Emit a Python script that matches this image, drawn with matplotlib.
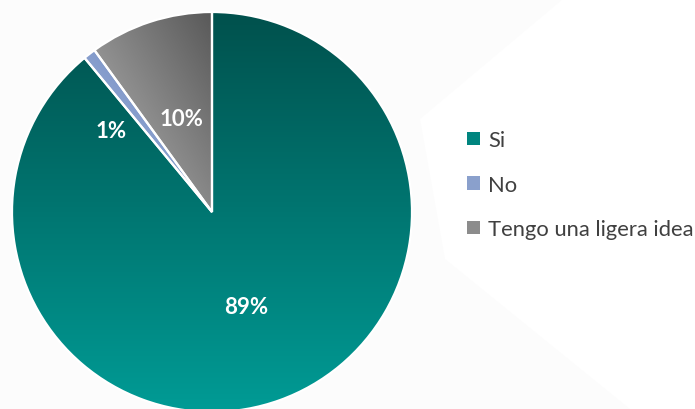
import numpy as np
import matplotlib.pyplot as plt
from matplotlib.colors import LinearSegmentedColormap
from matplotlib.patches import Patch, Polygon

labels = ['Si', 'No', 'Tengo una ligera idea']
values = [89, 1, 10]

# gradient colours (dark end, light end) per slice
dark_cols = ['#00514d', '#5677ba', '#595959']
light_cols = ['#009b95', '#b6c3df', '#b9b9b9']
legend_cols = ['#00857f', '#8aa0cc', '#8c8c8c']

plt.rcParams['font.family'] = ['Lato', 'DejaVu Sans']

fig = plt.figure(figsize=(6.95, 4.10), dpi=100)
ax = fig.add_axes([0, 0, 1, 1])

# faint background shading
ax.add_patch(Polygon([(0, 410), (563, 410), (420, 290), (445, 150), (630, 0), (0, 0)],
                     closed=True, facecolor='#fcfcfc', edgecolor='none', zorder=0))

cx, cy, r = 212, 197, 200
wedges, _ = ax.pie(values, startangle=90, counterclock=False, center=(cx, cy),
                   radius=r, frame=True,
                   wedgeprops=dict(edgecolor='white', linewidth=1.6))
ax.set_xlim(0, 695)
ax.set_ylim(0, 410)
ax.set_aspect('equal')
ax.axis('off')

n = 200
for i, w in enumerate(wedges):
    th = np.radians(np.linspace(w.theta1, w.theta2, 60))
    xs = np.concatenate([[cx], cx + r * np.cos(th)])
    ys = np.concatenate([[cy], cy + r * np.sin(th)])
    x0, x1, y0, y1 = xs.min(), xs.max(), ys.min(), ys.max()
    gx, gy = np.meshgrid(np.linspace(0, 1, n), np.linspace(0, 1, n))
    if i == 0:
        t = 1 - gy                      # dark at top, light at bottom
    else:
        t = ((1 - gx) + (1 - gy)) / 2   # dark top-right, light bottom-left
    cmap = LinearSegmentedColormap.from_list('g%d' % i, [dark_cols[i], light_cols[i]])
    im = ax.imshow(t, cmap=cmap, origin='lower', extent=[x0, x1, y0, y1],
                   aspect='auto', zorder=1, vmin=0, vmax=1)
    im.set_clip_path(w)
    w.set_facecolor('none')
    w.set_zorder(2)

# percentage labels
lab_pos = [(None, 0.5), (141, 0.65), (None, 0.49)]
for i, w in enumerate(wedges):
    ang, dist = lab_pos[i]
    if ang is None:
        ang = (w.theta1 + w.theta2) / 2
    a = np.radians(ang)
    ax.text(cx + dist * r * np.cos(a), cy + dist * r * np.sin(a),
            '%d%%' % values[i], color='white', fontsize=16, fontweight='bold',
            ha='center', va='center', zorder=3)

handles = [Patch(facecolor=c, edgecolor='none') for c in legend_cols]
ax.legend(handles, labels, loc='center left', bbox_to_anchor=(0.660, 0.547),
          frameon=False, fontsize=15.8, labelcolor='#404040',
          handlelength=0.56, handleheight=0.56, handletextpad=0.38,
          labelspacing=1.12, borderaxespad=0)

fig.savefig('out.png', dpi=100, facecolor='white')
